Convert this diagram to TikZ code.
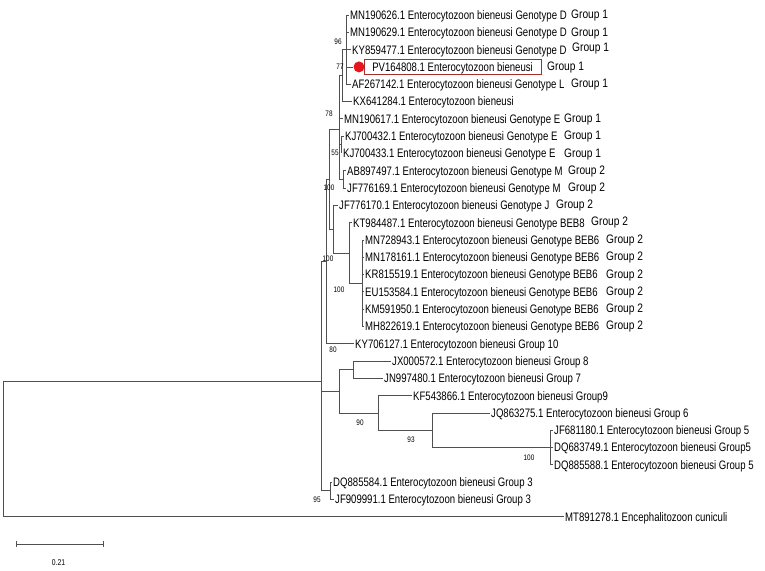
\documentclass[tikz,border=0pt]{standalone}
\usepackage{fontspec}
\newfontfamily\tipf{Liberation Sans}[FakeStretch=0.78]
\newfontfamily\grpf{Liberation Sans}[FakeStretch=0.83]
\newfontfamily\bsf{Liberation Sans}[FakeStretch=0.8]
\definecolor{linegray}{RGB}{80,80,80}
\definecolor{boxred}{RGB}{165,45,45}
\definecolor{dotred}{RGB}{232,20,27}
\begin{document}
\begin{tikzpicture}[x=1pt,y=-1pt,
  branch/.style={draw=linegray, line width=0.8pt},
  tip/.style={anchor=west, inner xsep=1.5pt, inner ysep=0pt, text height=8.8pt, text depth=0pt, font=\tipf\fontsize{12.3}{13}\selectfont},
  grp/.style={anchor=west, inner sep=0pt, text height=8.8pt, text depth=0pt, font=\grpf\fontsize{12.3}{13}\selectfont},
  bs/.style={inner sep=0pt, font=\bsf\fontsize{8}{9}\selectfont}]
\useasboundingbox (0,0) rectangle (765,570);

% ---- tip labels ----
\node[tip] (t1) at (348.5,15.0) {MN190626.1 Enterocytozoon bieneusi Genotype D};
\node[tip] (t2) at (348.5,32.3) {MN190629.1 Enterocytozoon bieneusi Genotype D};
\node[tip] (t3) at (350.5,49.6) {KY859477.1 Enterocytozoon bieneusi Genotype D};
\node[circle, fill=dotred, minimum size=11pt, inner sep=0pt] (dot) at (359,66.9) {};
\node[tip, draw=boxred, line width=0.9pt, inner xsep=8.3pt, minimum height=15pt] (t4) at (363.5,66.9) {PV164808.1 Enterocytozoon bieneusi};
\node[tip] (t5) at (350.5,84.2) {AF267142.1 Enterocytozoon bieneusi Genotype L};
\node[tip] (t6) at (351.5,101.5) {KX641284.1 Enterocytozoon bieneusi};
\node[tip] (t7) at (342.5,118.8) {MN190617.1 Enterocytozoon bieneusi Genotype E};
\node[tip] (t8) at (343.5,136.1) {KJ700432.1 Enterocytozoon bieneusi Genotype E};
\node[tip] (t9) at (341.5,153.4) {KJ700433.1 Enterocytozoon bieneusi Genotype E};
\node[tip] (t10) at (345.5,170.7) {AB897497.1 Enterocytozoon bieneusi Genotype M};
\node[tip] (t11) at (345.5,188.0) {JF776169.1 Enterocytozoon bieneusi Genotype M};
\node[tip] (t12) at (337.5,205.3) {JF776170.1 Enterocytozoon bieneusi Genotype J};
\node[tip] (t13) at (351.5,222.6) {KT984487.1 Enterocytozoon bieneusi Genotype BEB8};
\node[tip] (t14) at (363.5,239.9) {MN728943.1 Enterocytozoon bieneusi Genotype BEB6};
\node[tip] (t15) at (363.5,257.2) {MN178161.1 Enterocytozoon bieneusi Genotype BEB6};
\node[tip] (t16) at (363.5,274.5) {KR815519.1 Enterocytozoon bieneusi Genotype BEB6};
\node[tip] (t17) at (363.5,291.8) {EU153584.1 Enterocytozoon bieneusi Genotype BEB6};
\node[tip] (t18) at (363.5,309.1) {KM591950.1 Enterocytozoon bieneusi Genotype BEB6};
\node[tip] (t19) at (363.5,326.4) {MH822619.1 Enterocytozoon bieneusi Genotype BEB6};
\node[tip] (t20) at (353.5,343.7) {KY706127.1 Enterocytozoon bieneusi Group 10};
\node[tip] (t21) at (390.5,361.0) {JX000572.1 Enterocytozoon bieneusi Group 8};
\node[tip] (t22) at (382.5,378.3) {JN997480.1 Enterocytozoon bieneusi Group 7};
\node[tip] (t23) at (411.5,395.6) {KF543866.1 Enterocytozoon bieneusi Group9};
\node[tip] (t24) at (489.5,412.9) {JQ863275.1 Enterocytozoon bieneusi Group 6};
\node[tip] (t25) at (552.5,430.2) {JF681180.1 Enterocytozoon bieneusi Group 5};
\node[tip] (t26) at (552.5,447.5) {DQ683749.1 Enterocytozoon bieneusi Group5};
\node[tip] (t27) at (552.5,464.8) {DQ885588.1 Enterocytozoon bieneusi Group 5};
\node[tip] (t28) at (331.5,482.1) {DQ885584.1 Enterocytozoon bieneusi Group 3};
\node[tip] (t29) at (333.5,499.4) {JF909991.1 Enterocytozoon bieneusi Group 3};
\node[tip] (t30) at (563.5,516.7) {MT891278.1 Encephalitozoon cuniculi};

% ---- group labels ----
\node[grp] (g1) at (571,14.5) {Group 1};
\node[grp] (g2) at (571,32) {Group 1};
\node[grp] (g3l) at (572,47.5) {Group 1};
\node[grp] (g4) at (547,66.5) {Group 1};
\node[grp] (g5l) at (571,83.5) {Group 1};
\node[grp] (g7) at (564,118) {Group 1};
\node[grp] (g8) at (564,135.5) {Group 1};
\node[grp] (g9) at (564,153.5) {Group 1};
\node[grp] (g10) at (568,170.5) {Group 2};
\node[grp] (g11) at (568,187) {Group 2};
\node[grp] (g12) at (556,204.5) {Group 2};
\node[grp] (g13) at (591,221.5) {Group 2};
\node[grp] (g14) at (606,239) {Group 2};
\node[grp] (g15) at (606,256.5) {Group 2};
\node[grp] (g16) at (606,274) {Group 2};
\node[grp] (g17) at (606,291) {Group 2};
\node[grp] (g18) at (606,308.5) {Group 2};
\node[grp] (g19) at (606,325.5) {Group 2};

% ---- internal nodes ----
\coordinate (n96) at (346,49.6);
\coordinate (n77) at (342.5,75.55);
\coordinate (n55) at (341.5,144.75);
\coordinate (nm) at (343,179.35);
\coordinate (n78) at (339,129.6);
\coordinate (beb6) at (362,283.15);
\coordinate (pbeb) at (349,252.9);
\coordinate (p2) at (333,229.1);
\coordinate (pp) at (329,179.35);
\coordinate (c1) at (326,261.5);
\coordinate (n80) at (353,369.65);
\coordinate (nG5) at (550.7,447.5);
\coordinate (n93) at (432.7,430.2);
\coordinate (n90) at (378,412.9);
\coordinate (c2) at (339.5,391.3);
\coordinate (nG3) at (330,490.75);
\coordinate (r1) at (321.7,381.2);
\coordinate (root) at (3,449);

% ---- branches ----
\draw[branch] (n96) |- (t1.west);
\draw[branch] (n96) |- (t2.west);
\draw[branch] (n96) |- (t3.west);
\draw[branch] (n96) |- (dot.west);
\draw[branch] (n96) |- (t5.west);
\draw[branch] (n77) |- (n96);
\draw[branch] (n77) |- (t6.west);
\draw[branch] (n55) |- (t8.west);
\draw[branch] (n55) |- (t9.west);
\draw[branch] (nm) |- (t10.west);
\draw[branch] (nm) |- (t11.west);
\draw[branch] (n78) |- (n77);
\draw[branch] (n78) |- (t7.west);
\draw[branch] (n78) |- (n55);
\draw[branch] (n78) |- (nm);
\foreach \k in {14,...,19} {\draw[branch] (beb6) |- (t\k.west);}
\draw[branch] (pbeb) |- (t13.west);
\draw[branch] (pbeb) |- (beb6);
\draw[branch] (p2) |- (t12.west);
\draw[branch] (p2) |- (pbeb);
\draw[branch] (pp) |- (n78);
\draw[branch] (pp) |- (p2);
\draw[branch] (c1) |- (pp);
\draw[branch] (c1) |- (t20.west);
\draw[branch] (n80) |- (t21.west);
\draw[branch] (n80) |- (t22.west);
\foreach \k in {25,26,27} {\draw[branch] (nG5) |- (t\k.west);}
\draw[branch] (n93) |- (t24.west);
\draw[branch] (n93) |- (nG5);
\draw[branch] (n90) |- (t23.west);
\draw[branch] (n90) |- (n93);
\draw[branch] (c2) |- (n80);
\draw[branch] (c2) |- (n90);
\draw[branch] (nG3) |- (t28.west);
\draw[branch] (nG3) |- (t29.west);
\draw[branch] (r1) |- (c1);
\draw[branch] (r1) |- (c2);
\draw[branch] (r1) |- (nG3);
\draw[branch] (root) |- (r1);
\draw[branch] (root) |- (t30.west);

% ---- bootstrap values ----
\node[bs] (b96) at (338,42) {96};
\node[bs] (b77) at (340,67) {77};
\node[bs] (b78) at (329,114) {78};
\node[bs] (b55) at (335,153) {55};
\node[bs] (b100a) at (329,188) {100};
\node[bs] (b100b) at (328,259) {100};
\node[bs] (b100c) at (339,290) {100};
\node[bs] (b80) at (333,350) {80};
\node[bs] (b90) at (360,423) {90};
\node[bs] (b93) at (411,440) {93};
\node[bs] (b100d) at (529,458) {100};
\node[bs] (b95) at (317,500) {95};

% ---- scale bar ----
\coordinate (sb1) at (16,544);
\coordinate (sb2) at (103,544);
\draw[branch] (sb1) -- (sb2);
\draw[branch] ([yshift=3pt]sb1) -- ([yshift=-3pt]sb1);
\draw[branch] ([yshift=3pt]sb2) -- ([yshift=-3pt]sb2);
\node[bs, font=\bsf\fontsize{8.5}{9}\selectfont] (sbl) at (58.5,563) {0.21};
\end{tikzpicture}
\end{document}
